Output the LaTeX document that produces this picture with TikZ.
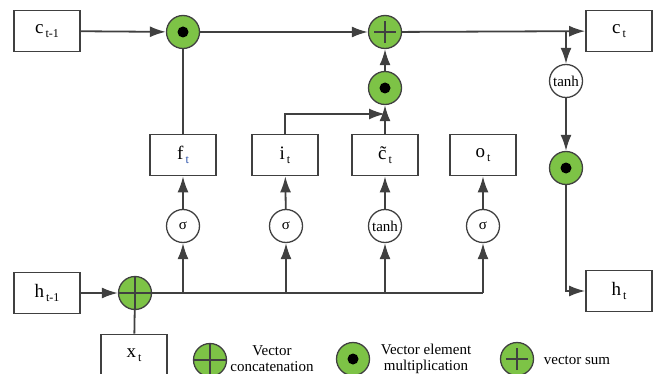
\documentclass[tikz,border=0pt]{standalone}
\usepackage{fontspec}
\setmainfont{Liberation Serif}
\usetikzlibrary{arrows.meta}
\definecolor{lstmgreen}{RGB}{125,195,70}
\definecolor{lstmline}{RGB}{64,64,64}
\definecolor{subblue}{RGB}{40,80,170}
\newcommand{\lbl}[2]{{\fontsize{19}{19}\selectfont #1}\raisebox{-4pt}{\fontsize{12}{12}\selectfont\,#2}}
\begin{document}
\begin{tikzpicture}[x=1pt, y=-1pt, >={Latex[length=16pt,width=11pt]},
    conn/.style={draw=lstmline, line width=1.8pt},
    box/.style={draw=lstmline, line width=1.7pt, fill=white, minimum width=66pt, minimum height=41pt, inner sep=0pt},
    act/.style={circle, draw=lstmline, line width=1.3pt, fill=white, minimum size=33pt, inner sep=0pt, font=\fontsize{15}{15}\selectfont},
    gate/.style={circle, draw=lstmline, line width=1.3pt, fill=lstmgreen, minimum size=33pt, inner sep=0pt},
    mult/.style={gate, path picture={\fill[black] (path picture bounding box.center) circle (5.5pt);}},
    vsum/.style={gate, path picture={
        \draw[lstmline, line width=1.4pt] ([xshift=-11pt]path picture bounding box.center) -- ([xshift=11pt]path picture bounding box.center);
        \draw[lstmline, line width=1.4pt] ([yshift=-11pt]path picture bounding box.center) -- ([yshift=11pt]path picture bounding box.center);}},
    vcat/.style={gate, path picture={
        \draw[lstmline, line width=1.4pt] (path picture bounding box.west) -- (path picture bounding box.east);
        \draw[lstmline, line width=1.4pt] (path picture bounding box.north) -- (path picture bounding box.south);}},
    legend/.style={font=\fontsize{15}{15}\selectfont, inner sep=0pt}]
    % 1. Vùng hiển thị
    \useasboundingbox (0,0) rectangle (660,374);
    \clip (0,0) rectangle (660,374);

    % 2. Trạng thái ô nhớ (hàng trên)
    \node[box] (ctm1) at (47,31) {\lbl{c}{t-1}};
    \node[mult] (mulf) at (183,32) {};
    \node[vsum] (sum) at (385,32) {};
    \node[mult] (mulc) at (385,88) {};
    \node[box] (ct) at (619,31) {\lbl{c}{t}};
    \coordinate (csplit) at (566,32);
    \coordinate (ijoin) at (385,114);

    % 3. Các cổng
    \node[box] (ft) at (183,155) {\lbl{f}{\textcolor{subblue}{t}}};
    \node[box] (it) at (285,155) {\lbl{i}{t}};
    \node[box] (ctil) at (385,155) {\lbl{\~{c}}{t}};
    \node[box] (ot) at (483,155) {\lbl{o}{t}};

    % 4. Hàm kích hoạt
    \node[act] (sf) at (183,226) {σ};
    \node[act] (si) at (286,226) {σ};
    \node[act] (tc) at (385,226) {tanh};
    \node[act] (so) at (483,226) {σ};
    \node[act] (tanhc) at (566,81) {tanh};
    \node[mult] (mulo) at (566,168) {};

    % 5. Đầu vào và đầu ra
    \node[box] (htm1) at (47,293) {\lbl{h}{t-1}};
    \node[vcat] (cat) at (135,293) {};
    \node[box] (xt) at (134,355) {\lbl{x}{t}};
    \node[box] (ht) at (619,291) {\lbl{h}{t}};

    % 6. Các mũi tên
    \draw[conn, ->] (ctm1) -- (mulf);
    \draw[conn, ->] (mulf) -- (sum);
    \draw[conn, ->] (sum) -- (ct);
    \draw[conn, ->] (csplit) -- (tanhc);
    \draw[conn, ->] (tanhc) -- (mulo);
    \draw[conn, ->] (mulo) |- (ht);
    \draw[conn] (ft) -- (mulf);
    \draw[conn, ->] (ctil) -- (mulc);
    \draw[conn, ->] (mulc) -- (sum);
    \draw[conn, ->] (it.north) |- (ijoin);
    \draw[conn, ->] (htm1) -- (cat);
    \draw[conn] (xt) -- (cat);
    \draw[conn] (cat.east) -- (so.south |- cat);
    \draw[conn, ->] (sf.south |- cat) -- (sf);
    \draw[conn, ->] (si.south |- cat) -- (si);
    \draw[conn, ->] (tc.south |- cat) -- (tc);
    \draw[conn, ->] (so.south |- cat) -- (so);
    \draw[conn, ->] (sf) -- (ft);
    \draw[conn, ->] (si) -- (it);
    \draw[conn, ->] (tc) -- (ctil);
    \draw[conn, ->] (so) -- (ot);

    % 7. Chú thích
    \node[vcat] (lgcat) at (210,360) {};
    \node[legend, align=center] (lgcattext) at (272,359) {Vector\\[1pt]concatenation};
    \node[mult] (lgmul) at (353,359) {};
    \node[legend, align=center] (lgmultext) at (426,359) {Vector element\\[1pt]multiplication};
    \node[vsum] (lgsum) at (517,359) {};
    \node[legend] (lgsumtext) at (577,360) {vector sum};
\end{tikzpicture}
\end{document}
